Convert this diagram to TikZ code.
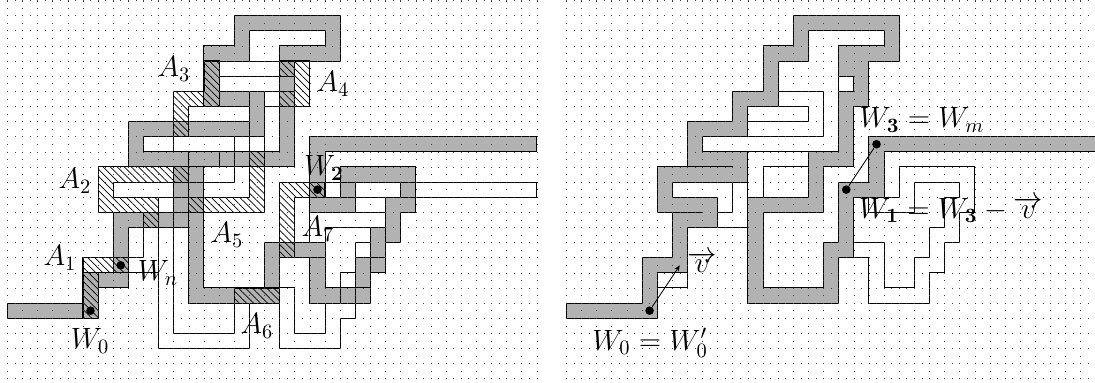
\documentclass[tikz,border=0pt]{standalone}
\usetikzlibrary{patterns.meta,arrows.meta}
\def\Wpoly{(0,20)--(5,20)--(5,18)--(7,18)--(7,14)--(11,14)--(11,11)--(8,11)--(8,8)--(16,8)--(16,7)--(13,7)--(13,3)--(15,3)--(15,1)--(22,1)--(22,4)--(19,4)--(19,11)--(13,11)--(13,19)--(17,19)--(17,16)--(21,16)--(21,19)--(23,19)--(23,17)--(24,17)--(24,15)--(25,15)--(25,13)--(26,13)--(26,12)--(23,12)--(23,14)--(20,14)--(20,9)--(35,9)--(35,10)--(21,10)--(21,13)--(22,13)--(22,11)--(27,11)--(27,14)--(26,14)--(26,16)--(25,16)--(25,18)--(24,18)--(24,20)--(20,20)--(20,17)--(18,17)--(18,20)--(12,20)--(12,10)--(18,10)--(18,3)--(21,3)--(21,2)--(16,2)--(16,4)--(14,4)--(14,6)--(17,6)--(17,9)--(9,9)--(9,10)--(12,10)--(12,15)--(8,15)--(8,19)--(6,19)--(6,21)--(0,21)--cycle}
\def\Wshifted{(7,18)--(7,14)--(11,14)--(11,11)--(8,11)--(8,8)--(16,8)--(16,7)--(13,7)--(13,3)--(15,3)--(15,1)--(22,1)--(22,4)--(19,4)--(19,11)--(13,11)--(13,19)--(17,19)--(17,16)--(21,16)--(21,19)--(23,19)--(23,17)--(24,17)--(24,15)--(25,15)--(25,13)--(26,13)--(26,12)--(23,12)--(23,14)--(20,14)--(20,9)--(37,9)--(37,10)--(21,10)--(21,13)--(22,13)--(22,11)--(27,11)--(27,14)--(26,14)--(26,16)--(25,16)--(25,18)--(24,18)--(24,20)--(20,20)--(20,17)--(18,17)--(18,20)--(12,20)--(12,10)--(18,10)--(18,3)--(21,3)--(21,2)--(16,2)--(16,4)--(14,4)--(14,6)--(17,6)--(17,9)--(9,9)--(9,10)--(12,10)--(12,15)--(8,15)--(8,18)--cycle}
\def\Qpoly{(0,20)--(5,20)--(5,17)--(7,17)--(7,14)--(9,14)--(6,14)--(6,11)--(11,11)--(8,11)--(8,8)--(11,8)--(11,6)--(13,6)--(13,3)--(15,3)--(15,1)--(22,1)--(22,4)--(20,4)--(20,7)--(19,7)--(19,11)--(17,11)--(17,14)--(13,14)--(13,19)--(17,19)--(17,16)--(18,16)--(18,12)--(20,12)--(20,9)--(35,9)--(35,10)--(21,10)--(21,13)--(19,13)--(19,17)--(18,17)--(18,20)--(12,20)--(12,13)--(16,13)--(16,10)--(18,10)--(18,6)--(19,6)--(19,5)--(18,5)--(18,3)--(21,3)--(21,2)--(16,2)--(16,4)--(14,4)--(14,7)--(12,7)--(12,9)--(9,9)--(9,10)--(12,10)--(12,12)--(7,12)--(7,13)--(10,13)--(10,15)--(8,15)--(8,18)--(6,18)--(6,21)--(0,21)--cycle}
\definecolor{bandgray}{gray}{0.70}
\tikzset{
  band/.style={fill=bandgray,draw=black,line width=0.5pt,line join=miter},
  outline/.style={draw=black,line width=0.5pt,line join=miter},
  griddots/.style={black!75,line width=0.3pt,dash pattern=on 0.3pt off 3.4825pt,dash phase=0.15pt},
  hatchpatch/.style={draw=black,line width=0.55pt,pattern={Lines[angle=-45,distance=2.5pt,line width=0.35pt]},pattern color=black},
  blackdot/.style={circle,fill=black,inner sep=0pt,minimum size=4.3pt},
  lbl/.style={inner sep=0pt,font=\Large,scale=1.02},
  vec/.style={line width=0.4pt}
}
\newcommand{\dotgrid}{%
  \foreach \i in {0,...,35}{\draw[griddots] (\i,0)--(\i,25);}%
  \foreach \j in {0,...,25}{\draw[griddots] (0,\j)--(35,\j);}%
}
\begin{document}
\begin{tikzpicture}[x=7.565pt,y=-7.565pt]
\useasboundingbox (-0.4825,-0.033) rectangle (71.89,25.215);
% left panel
\path[band] \Wpoly;
\path[hatchpatch] (5,21)--(5,17)--(8,17)--(8,18)--(6,18)--(6,21)--cycle;
\path[hatchpatch] (9,15)--(9,14)--(6,14)--(6,11)--(12,11)--(12,12)--(7,12)--(7,13)--(10,13)--(10,15)--cycle;
\path[hatchpatch] (11,9)--(11,6)--(13,6)--(13,4)--(14,4)--(14,7)--(12,7)--(12,9)--cycle;
\path[hatchpatch] (18,4)--(20,4)--(20,7)--(18,7)--(18,6)--(19,6)--(19,5)--(18,5)--cycle;
\path[hatchpatch] (16,10)--(17,10)--(17,14)--(12,14)--(12,13)--(16,13)--cycle;
\path[hatchpatch] (15,19) rectangle (18,20);
\path[hatchpatch] (18,17)--(18,12)--(21,12)--(21,13)--(19,13)--(19,17)--cycle;
\begin{scope}[shift={(-2,3)}]
\path[outline] \Wshifted;
\end{scope}
\dotgrid
\node[blackdot] (w0) at (5.5,20.5) {};
\node[blackdot] (wn) at (7.5,17.5) {};
\node[blackdot] (w2) at (20.5,12.5) {};
\node[lbl] (a3) at (11.02,4.53) {$A_3$};
\node[lbl] (a4) at (21.53,5.52) {$A_4$};
\node[lbl] (a2) at (4.47,11.93) {$A_2$};
\node[lbl] (lw2) at (20.93,11.07) {$W_{\mathbf 2}$};
\node[lbl] (a1) at (3.48,17.02) {$A_1$};
\node[lbl] (lwn) at (9.96,18.01) {$W_n$};
\node[lbl] (lw0) at (5.47,22.5) {$W_0$};
\node[lbl] (a5) at (14.52,15.5) {$A_5$};
\node[lbl] (a6) at (16.5,21.51) {$A_6$};
\node[lbl] (a7) at (20.54,15.1) {$A_7$};
% right panel
\begin{scope}[xshift=36.95*7.565pt]
\path[outline] \Wpoly;
\path[band] \Qpoly;
\dotgrid
\node[blackdot] (r0) at (5.5,20.5) {};
\node[blackdot] (r1) at (18.5,12.5) {};
\node[blackdot] (r3) at (20.5,9.5) {};
\coordinate (rv) at (7.5,17.5);
\draw[vec,-{Stealth[length=3pt,width=2.4pt]}] (r0) -- (rv);
\draw[vec] (r1) -- (r3);
\node[lbl] (t3) at (23.51,7.9) {$W_{\mathbf 3}=W_m$};
\node[lbl] (t0) at (5.53,22.64) {$W_0=W_0'$};
\node[lbl] (t1) at (25.43,13.85) {$W_{\mathbf 1}=W_{\mathbf 3}-\overrightarrow{v}$};
\node[lbl] (tv) at (8.97,17.28) {$\overrightarrow{v}$};
\end{scope}
\end{tikzpicture}
\end{document}
